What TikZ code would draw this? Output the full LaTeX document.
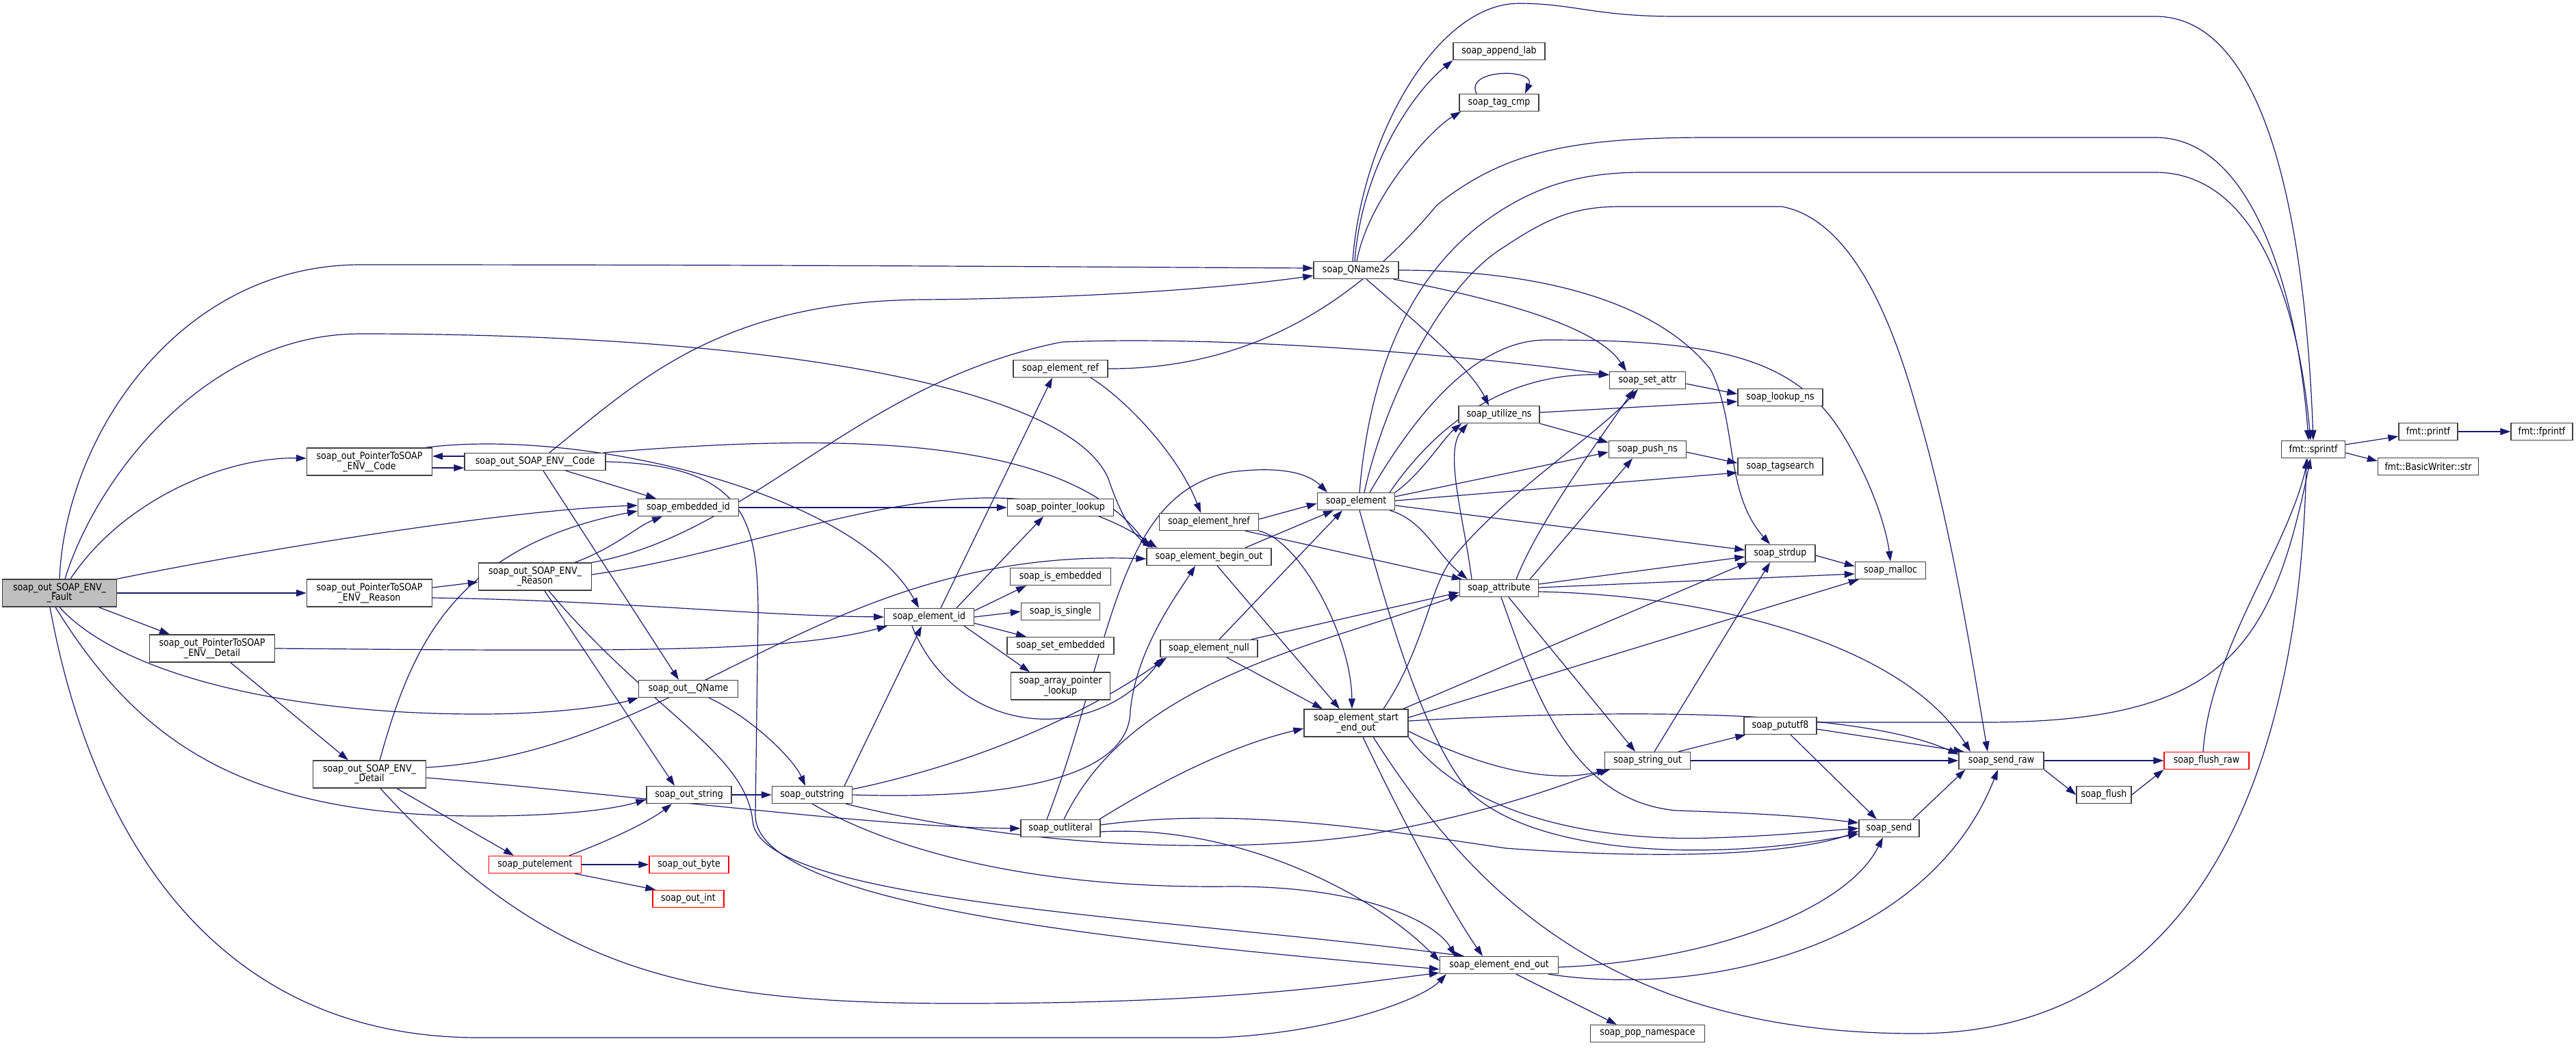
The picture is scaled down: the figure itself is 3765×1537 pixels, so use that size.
\documentclass[tikz,border=0pt]{standalone}
\usepackage{fontspec}
\setmainfont{DejaVu Sans}[FakeStretch=0.87]
\usetikzlibrary{arrows.meta}
\definecolor{edgeblue}{HTML}{191970}
\definecolor{boxgray}{HTML}{BFBFBF}
\pgfdeclarelayer{bg}
\pgfsetlayers{bg,main}
\tikzset{
  fn/.style={draw=black!75, line width=1.4pt, fill=white, minimum height=25pt, inner sep=2pt,
    align=center, font=\fontsize{14.5pt}{14.5pt}\selectfont},
  fn2/.style={fn, minimum height=40pt},
  ext/.style={fn, draw=red},
  edge/.style={draw=edgeblue, line width=1.2pt, -{Triangle[length=15pt,width=10pt]}},
}

\begin{document}
\begin{tikzpicture}[x=1pt,y=-1pt]
\useasboundingbox (0,0) rectangle (3765,1537);
% functions
\node[fn2, fill=boxgray, minimum width=167pt] (fault) at (87,867) {soap\_out\_SOAP\_ENV\_\\\_Fault};
\node[fn2, minimum width=183pt] (ptrcode) at (540,675) {soap\_out\_PointerToSOAP\\\_ENV\_\_Code};
\node[fn2, minimum width=183pt] (ptrreason) at (540,867) {soap\_out\_PointerToSOAP\\\_ENV\_\_Reason};
\node[fn2, minimum width=183pt] (ptrdetail) at (310,948) {soap\_out\_PointerToSOAP\\\_ENV\_\_Detail};
\node[fn2, minimum width=165pt] (envdetail) at (540,1132) {soap\_out\_SOAP\_ENV\_\\\_Detail};
\node[fn, minimum width=206pt] (envcode) at (782,675) {soap\_out\_SOAP\_ENV\_\_Code};
\node[fn2, minimum width=165pt] (envreason) at (782,843) {soap\_out\_SOAP\_ENV\_\\\_Reason};
\node[fn, minimum width=147pt] (embid) at (1006,742) {soap\_embedded\_id};
\node[fn, minimum width=145pt] (outqname) at (1006,1007) {soap\_out\_\_QName};
\node[fn, minimum width=124pt] (outstr) at (1007,1162) {soap\_out\_string};
\node[fn, minimum width=117pt] (outstring) at (1187,1162) {soap\_outstring};
\node[ext, minimum width=135pt] (putelem) at (782,1264) {soap\_putelement};
\node[ext, minimum width=116pt] (outbyte) at (1007,1264) {soap\_out\_byte};
\node[ext, minimum width=104pt] (outint) at (1006,1314) {soap\_out\_int};
\node[fn, minimum width=131pt] (elemid) at (1358,902) {soap\_element\_id};
\node[fn, minimum width=138pt] (elemref) at (1550,539) {soap\_element\_ref};
\node[fn, minimum width=155pt] (ptrlookup) at (1550,742) {soap\_pointer\_lookup};
\node[fn, minimum width=147pt] (isemb) at (1550,843) {soap\_is\_embedded};
\node[fn, minimum width=115pt] (issingle) at (1550,894) {soap\_is\_single};
\node[fn, minimum width=156pt] (setemb) at (1550,944) {soap\_set\_embedded};
\node[fn2, minimum width=145pt] (arrlookup) at (1550,1003) {soap\_array\_pointer\\\_lookup};
\node[fn, minimum width=116pt] (outlit) at (1550,1211) {soap\_outliteral};
\node[fn, minimum width=145pt] (elemhref) at (1767,763) {soap\_element\_href};
\node[fn, minimum width=182pt] (beginout) at (1767,814) {soap\_element\_begin\_out};
\node[fn, minimum width=142pt] (elemnull) at (1767,948) {soap\_element\_null};
\node[fn, minimum width=124pt] (qname2s) at (1982,395) {soap\_QName2s};
\node[fn, minimum width=113pt] (element) at (1982,733) {soap\_element};
\node[fn2, minimum width=152pt] (startend) at (1982,1057) {soap\_element\_start\\\_end\_out};
\node[fn, minimum width=134pt] (appendlab) at (2191,75) {soap\_append\_lab};
\node[fn, minimum width=116pt] (tagcmp) at (2191,150) {soap\_tag\_cmp};
\node[fn, minimum width=118pt] (utilize) at (2191,606) {soap\_utilize\_ns};
\node[fn, minimum width=115pt] (attribute) at (2191,860) {soap\_attribute};
\node[fn, minimum width=173pt] (endout) at (2191,1411) {soap\_element\_end\_out};
\node[fn, minimum width=111pt] (setattr) at (2408,556) {soap\_set\_attr};
\node[fn, minimum width=113pt] (pushns) at (2408,657) {soap\_push\_ns};
\node[fn, minimum width=125pt] (stringout) at (2408,1112) {soap\_string\_out};
\node[fn, minimum width=167pt] (popns) at (2408,1511) {soap\_pop\_namespace};
\node[fn, minimum width=124pt] (lookupns) at (2602,581) {soap\_lookup\_ns};
\node[fn, minimum width=124pt] (tagsearch) at (2602,682) {soap\_tagsearch};
\node[fn, minimum width=102pt] (strdup) at (2602,809) {soap\_strdup};
\node[fn, minimum width=106pt] (pututf8) at (2602,1061) {soap\_pututf8};
\node[fn, minimum width=103pt] (malloc) at (2763,834) {soap\_malloc};
\node[fn, minimum width=88pt] (send) at (2761,1211) {soap\_send};
\node[fn, minimum width=124pt] (sendraw) at (2925,1112) {soap\_send\_raw};
\node[fn, minimum width=80pt] (flush) at (3075,1162) {soap\_flush};
\node[ext, minimum width=124pt] (flushraw) at (3225,1112) {soap\_flush\_raw};
\node[fn, minimum width=93pt] (sprintf) at (3381,657) {fmt::sprintf};
\node[fn, minimum width=86pt] (printf) at (3549,631) {fmt::printf};
\node[fn, minimum width=147pt] (bwstr) at (3549,682) {fmt::BasicWriter::str};
\node[fn, minimum width=90pt] (fprintf) at (3715,631) {fmt::fprintf};

\begin{pgfonlayer}{bg}
\fill[white] (0,0) rectangle (3765,1537);
% calls of the fault writer
\draw[edge] (fault.north) .. controls (95,640) and (260,387) .. (527,387) .. controls (1200,387) and (1700,391) .. ([yshift=3pt]qname2s.west);
\draw[edge] ([xshift=8pt]fault.north) .. controls (140,700) and (300,488) .. (527,488) .. controls (1100,488) and (1560,560) .. (1620,700) .. controls (1640,760) and (1660,785) .. ([xshift=10pt]beginout.north west);
\draw[edge] ([xshift=16pt]fault.north) .. controls (180,730) and (330,668) .. ([yshift=5pt]ptrcode.west);
\draw[edge] (fault.north east) .. controls (400,800) and (750,745) .. ([yshift=3pt]embid.west);
\draw[edge] (fault.east) -- (ptrreason.west);
\draw[edge] ([xshift=-27pt]fault.south east) -- ([xshift=-62pt]ptrdetail.north);
\draw[edge] (fault.south) .. controls (170,980) and (400,1044) .. (700,1044) .. controls (820,1044) and (900,1030) .. (outqname.south west);
\draw[edge] ([xshift=-6pt]fault.south) .. controls (200,1080) and (350,1193) .. (700,1193) .. controls (830,1193) and (900,1182) .. ([yshift=-7pt]outstr.west);
\draw[edge] ([xshift=-14pt]fault.south) .. controls (130,1200) and (300,1517) .. (700,1517) -- (1780,1517) .. controls (1950,1510) and (2080,1460) .. ([xshift=10pt]endout.south west);
% pointer writers
\draw[edge] ([yshift=-9pt]ptrcode.east) -- ([yshift=-9pt]envcode.west);
\draw[edge] ([yshift=8pt]envcode.west) -- ([yshift=8pt]ptrcode.east);
\draw[edge] ([xshift=-10pt]ptrcode.north east) .. controls (850,625) and (1250,720) .. ([xshift=-15pt]elemid.north);
\draw[edge] ([yshift=8pt]ptrreason.east) -- ([yshift=-8pt]envreason.west);
\draw[edge] ([yshift=-7pt]ptrreason.east) .. controls (900,878) and (1100,900) .. (elemid.west);
\draw[edge] ([xshift=27pt]ptrdetail.south) -- ([xshift=-31pt]envdetail.north);
\draw[edge] (ptrdetail.east) .. controls (900,952) and (1150,955) .. ([xshift=5pt]elemid.south west);
% code
\draw[edge] ([xshift=21pt]envcode.north) .. controls (930,560) and (1050,440) .. (1350,438) .. controls (1600,436) and (1800,420) .. ([yshift=-8pt]qname2s.west);
\draw[edge] ([xshift=-4pt]envcode.north east) .. controls (1150,640) and (1550,620) .. ([xshift=4pt]beginout.north west);
\draw[edge] ([xshift=45pt]envcode.south) -- ([xshift=-47pt]embid.north);
\draw[edge] ([xshift=12pt]envcode.south) -- ([xshift=-14pt]outqname.north);
\draw[edge] (envcode.east) .. controls (1090,680) and (1108,760) .. (1108,900) -- (1104,1190) .. controls (1100,1330) and (1700,1380) .. ([yshift=-6pt]endout.west);
% reason
\draw[edge] ([xshift=58pt]envreason.north) .. controls (900,800) and (930,770) .. ([xshift=-38pt]embid.south);
\draw[edge] (envreason.north east) .. controls (1100,780) and (1250,560) .. (1552,500) .. controls (1800,490) and (2150,520) .. ([yshift=8pt]setattr.west);
\draw[edge] ([yshift=3pt]envreason.east) .. controls (1150,800) and (1450,640) .. ([xshift=16pt]beginout.north west);
\draw[edge] ([xshift=14pt]envreason.south) -- ([xshift=-21pt]outstr.north);
\draw[edge] ([xshift=20pt]envreason.south) .. controls (950,1040) and (1090,1100) .. (1100,1200) .. controls (1110,1320) and (1700,1340) .. ([xshift=-51pt]endout.north);
% detail
\draw[edge] ([xshift=15pt]envdetail.north) .. controls (600,950) and (660,800) .. ([yshift=-5pt]embid.west);
\draw[edge] ([yshift=10pt]envdetail.east) .. controls (1000,1100) and (1200,800) .. ([yshift=-3pt]beginout.west);
\draw[edge] ([yshift=-5pt]envdetail.east) .. controls (900,1160) and (1300,1211) .. (outlit.west);
\draw[edge] ([xshift=40pt]envdetail.south) -- ([xshift=-31pt]putelem.north);
\draw[edge] ([xshift=16pt]envdetail.south) .. controls (800,1420) and (1000,1467) .. (1400,1467) .. controls (1800,1467) and (1960,1440) .. ([yshift=2pt]endout.south west);
\draw[edge] ([xshift=50pt]putelem.north) .. controls (900,1225) and (950,1200) .. ([xshift=-25pt]outstr.south);
\draw[edge] (putelem.east) -- (outbyte.west);
\draw[edge] ([xshift=-10pt]putelem.south east) -- ([xshift=5pt]outint.north west);
% strings
\draw[edge] ([xshift=30pt]outqname.south) .. controls (1100,1050) and (1160,1110) .. ([xshift=-10pt]outstring.north);
\draw[edge] (outstr.east) -- (outstring.west);
\draw[edge] ([xshift=-12pt]outstring.north east) -- ([xshift=-11pt]elemid.south);
\draw[edge] ([yshift=-5pt]outstring.north east) .. controls (1500,1100) and (1650,1000) .. ([xshift=10pt]elemnull.south west);
\draw[edge] (outstring.east) .. controls (1500,1170) and (1650,1130) .. (1652,1040) .. controls (1660,950) and (1720,870) .. ([xshift=-20pt]beginout.south);
\draw[edge] ([xshift=-10pt]outstring.south east) .. controls (1500,1240) and (1800,1250) .. (2000,1220) .. controls (2200,1185) and (2300,1140) .. ([xshift=8pt]stringout.south west);
\draw[edge] (outstring.south) .. controls (1300,1240) and (1500,1300) .. (1800,1296) .. controls (2000,1296) and (2100,1350) .. ([xshift=-64pt]endout.north);
% element id
\draw[edge] ([xshift=17pt]elemid.north) -- ([xshift=-12pt]elemref.south);
\draw[edge] ([xshift=40pt]elemid.north) -- ([xshift=-25pt]ptrlookup.south);
\draw[edge] ([yshift=-4pt]elemid.north east) -- ([xshift=-50pt]isemb.south);
\draw[edge] (elemid.east) -- (issingle.west);
\draw[edge] ([yshift=4pt]elemid.south east) -- ([xshift=-50pt]setemb.north);
\draw[edge] ([xshift=-15pt]elemid.south east) -- ([xshift=-45pt]arrlookup.north);
\draw[edge] ([xshift=-25pt]elemid.south) .. controls (1400,1080) and (1600,1090) .. ([xshift=4pt]elemnull.south west);
\draw[edge] (embid.east) -- (ptrlookup.west);
\draw[edge] ([xshift=44pt]elemref.south) .. controls (1640,580) and (1720,660) .. ([xshift=-12pt]elemhref.north);
\draw[edge] (elemref.east) .. controls (1850,540) and (2000,420) .. (2100,300) .. controls (2200,220) and (2300,201) .. (2500,201) -- (3150,201) .. controls (3300,201) and (3360,450) .. ([xshift=-7pt]sprintf.north);
% element writers
\draw[edge] ([yshift=4pt]elemhref.east) -- ([yshift=-3pt]element.west);
\draw[edge] ([xshift=-20pt]elemhref.south east) -- ([xshift=4pt]attribute.north west);
\draw[edge] (elemhref.south east) .. controls (1900,790) and (1975,930) .. ([xshift=-6pt]startend.north);
\draw[edge] ([xshift=53pt]beginout.north) -- ([xshift=-33pt]element.south);
\draw[edge] ([xshift=12pt]beginout.south) -- ([xshift=-24pt]startend.north);
\draw[edge] ([xshift=15pt]elemnull.north) -- ([xshift=-20pt]element.south);
\draw[edge] ([xshift=-10pt]elemnull.north east) -- ([yshift=-6pt]attribute.west);
\draw[edge] ([xshift=26pt]elemnull.south) -- ([xshift=-49pt]startend.north);
\draw[edge] ([xshift=-20pt]outlit.north) .. controls (1625,950) and (1630,720) .. (1800,690) .. controls (1880,680) and (1915,695) .. ([xshift=-42pt]element.north);
\draw[edge] ([xshift=-2pt]outlit.north east) .. controls (1700,1140) and (1800,1090) .. ([yshift=-8pt]startend.west);
\draw[edge] ([xshift=5pt]outlit.north) .. controls (1650,1000) and (1900,950) .. ([yshift=-10pt]attribute.west);
\draw[edge] ([yshift=5pt]outlit.east) .. controls (1800,1180) and (2000,1210) .. (2200,1240) .. controls (2500,1262) and (2650,1240) .. ([yshift=-4pt]send.west);
\draw[edge] ([yshift=-5pt]outlit.east) .. controls (1800,1205) and (2000,1300) .. ([yshift=6pt]endout.west);
% qname2s
\draw[edge] ([xshift=-2pt]qname2s.north) .. controls (1990,250) and (2060,140) .. (appendlab.south west);
\draw[edge] ([xshift=1pt]qname2s.north) .. controls (2000,290) and (2090,190) .. ([xshift=3pt]tagcmp.south west);
\draw[edge] ([xshift=-5pt]qname2s.north) .. controls (1990,200) and (2100,5) .. (2220,5) .. controls (2300,5) and (2330,24) .. (2450,24) -- (3150,24) .. controls (3320,24) and (3370,350) .. (sprintf.north);
\draw[edge] (qname2s.east) .. controls (2250,395) and (2420,440) .. (2500,540) .. controls (2540,620) and (2520,720) .. ([xshift=-15pt]strdup.north);
\draw[edge] ([xshift=-8pt]qname2s.south east) .. controls (2150,430) and (2330,470) .. ([xshift=-31pt]setattr.north);
\draw[edge] ([xshift=15pt]qname2s.south) .. controls (2080,480) and (2150,540) .. ([xshift=-15pt]utilize.north);
\draw[edge] ([xshift=-33pt]tagcmp.north) .. controls (2140,100) and (2245,100) .. ([xshift=38pt]tagcmp.north);
% soap_element
\draw[edge] ([xshift=-8pt]element.north east) .. controls (2100,620) and (2200,545) .. ([yshift=8pt]setattr.west);
\draw[edge] (element.north east) .. controls (2080,690) and (2110,640) .. ([xshift=5pt]utilize.south west);
\draw[edge] ([yshift=7pt]element.east) -- ([yshift=-4pt]pushns.west);
\draw[edge] ([yshift=1pt]element.east) -- ([yshift=-9pt]tagsearch.west);
\draw[edge] ([yshift=-6pt]element.east) -- ([yshift=5pt]strdup.west);
\draw[edge] ([xshift=-8pt]element.south east) .. controls (2080,760) and (2100,810) .. ([xshift=12pt]attribute.north west);
\draw[edge] ([xshift=20pt]element.north) .. controls (2060,620) and (2150,497) .. (2260,497) .. controls (2500,497) and (2620,520) .. (2690,630) .. controls (2740,710) and (2758,780) .. (malloc.north);
\draw[edge] ([xshift=5pt]element.north) .. controls (2000,560) and (2050,420) .. (2158,333) .. controls (2230,277) and (2300,252) .. (2400,252) -- (3150,252) .. controls (3300,252) and (3360,450) .. ([xshift=-4pt]sprintf.north);
\draw[edge] ([xshift=12pt]element.north) .. controls (2020,600) and (2100,420) .. (2200,360) .. controls (2260,320) and (2300,302) .. (2368,302) -- (2604,302) .. controls (2700,320) and (2760,450) .. (2800,593) .. controls (2850,760) and (2880,950) .. ([xshift=-20pt]sendraw.north);
\draw[edge] ([xshift=5pt]element.south) .. controls (2030,900) and (2080,1080) .. (2150,1160) .. controls (2250,1250) and (2500,1260) .. ([yshift=-8pt]send.west);
% namespaces
\draw[edge] ([yshift=-5pt]setattr.east) -- ([yshift=5pt]lookupns.west);
\draw[edge] ([yshift=3pt]utilize.east) -- ([yshift=-6pt]lookupns.west);
\draw[edge] (utilize.south east) -- ([yshift=10pt]pushns.west);
\draw[edge] ([yshift=-4pt]pushns.east) -- ([yshift=5pt]tagsearch.west);
\draw[edge] ([yshift=-3pt]strdup.east) -- ([yshift=6pt]malloc.west);
% attribute
\draw[edge] ([xshift=25pt]attribute.north) .. controls (2250,760) and (2340,640) .. ([xshift=-20pt]setattr.south);
\draw[edge] ([xshift=45pt]attribute.north) -- ([xshift=-22pt]pushns.south);
\draw[edge] ([xshift=-40pt]attribute.north) .. controls (2140,760) and (2110,660) .. ([xshift=14pt]utilize.south west);
\draw[edge] ([yshift=6pt]attribute.east) -- ([yshift=-5pt]strdup.west);
\draw[edge] ([yshift=1pt]attribute.east) -- ([yshift=-5pt]malloc.west);
\draw[edge] ([yshift=-5pt]attribute.east) .. controls (2500,870) and (2780,940) .. ([xshift=-45pt]sendraw.north);
\draw[edge] ([xshift=14pt]attribute.south) -- ([xshift=-18pt]stringout.north);
\draw[edge] ([xshift=3pt]attribute.south) .. controls (2240,1000) and (2290,1170) .. (2450,1185) .. controls (2600,1190) and (2650,1195) .. ([yshift=8pt]send.west);
% start end out
\draw[edge] ([xshift=40pt]startend.north) .. controls (2080,950) and (2090,860) .. (2120,820) .. controls (2200,720) and (2330,640) .. ([xshift=-14pt]setattr.south);
\draw[edge] ([xshift=-8pt]startend.north east) -- ([xshift=4pt]strdup.south west);
\draw[edge] ([yshift=8pt]startend.east) -- ([xshift=6pt]malloc.south west);
\draw[edge] ([yshift=3pt]startend.east) .. controls (2300,1040) and (2700,1030) .. ([yshift=9pt]sendraw.west);
\draw[edge] ([yshift=-12pt]startend.east) .. controls (2200,1140) and (2290,1140) .. ([xshift=4pt]stringout.south west);
\draw[edge] (startend.south east) .. controls (2150,1200) and (2350,1230) .. (2500,1225) .. controls (2600,1222) and (2660,1215) .. (send.west);
\draw[edge] ([xshift=10pt]startend.south) .. controls (2050,1200) and (2120,1330) .. ([xshift=-24pt]endout.north);
\draw[edge] ([xshift=25pt]startend.south) .. controls (2150,1300) and (2350,1511) .. (2800,1511) .. controls (3200,1511) and (3360,1150) .. ([xshift=-10pt]sprintf.south);
% output
\draw[edge] ([xshift=45pt]stringout.north) -- ([xshift=3pt]pututf8.south west);
\draw[edge] (stringout.east) -- (sendraw.west);
\draw[edge] ([xshift=10pt]stringout.north) -- ([xshift=-15pt]strdup.south);
\draw[edge] ([yshift=-5pt]pututf8.east) -- ([xshift=8pt]sendraw.north west);
\draw[edge] ([yshift=5pt]pututf8.east) -- (2900,1056) .. controls (3250,1056) and (3320,950) .. ([xshift=-4pt]sprintf.south);
\draw[edge] ([xshift=15pt]pututf8.south) -- ([xshift=-18pt]send.north);
\draw[edge] ([xshift=-10pt]send.north east) -- ([xshift=10pt]sendraw.south west);
\draw[edge] ([yshift=-3pt]endout.east) .. controls (2500,1405) and (2700,1330) .. ([xshift=-9pt]send.south);
\draw[edge] ([xshift=-15pt]endout.south east) .. controls (2500,1460) and (2820,1380) .. ([xshift=-5pt]sendraw.south);
\draw[edge] ([xshift=25pt]endout.south) -- ([xshift=-45pt]popns.north);
\draw[edge] (sendraw.east) -- (flushraw.west);
\draw[edge] (sendraw.south east) -- (flush.west);
\draw[edge] (flush.east) -- (flushraw.south west);
\draw[edge] ([xshift=-5pt]flushraw.north) .. controls (3230,950) and (3345,800) .. ([xshift=-8pt]sprintf.south);
\draw[edge] ([yshift=7pt]sprintf.east) -- ([yshift=-7pt]printf.west);
\draw[edge] ([yshift=-5pt]sprintf.east) -- ([yshift=8pt]bwstr.west);
\draw[edge] (printf.east) -- (fprintf.west);
\end{pgfonlayer}
\end{tikzpicture}
\end{document}
